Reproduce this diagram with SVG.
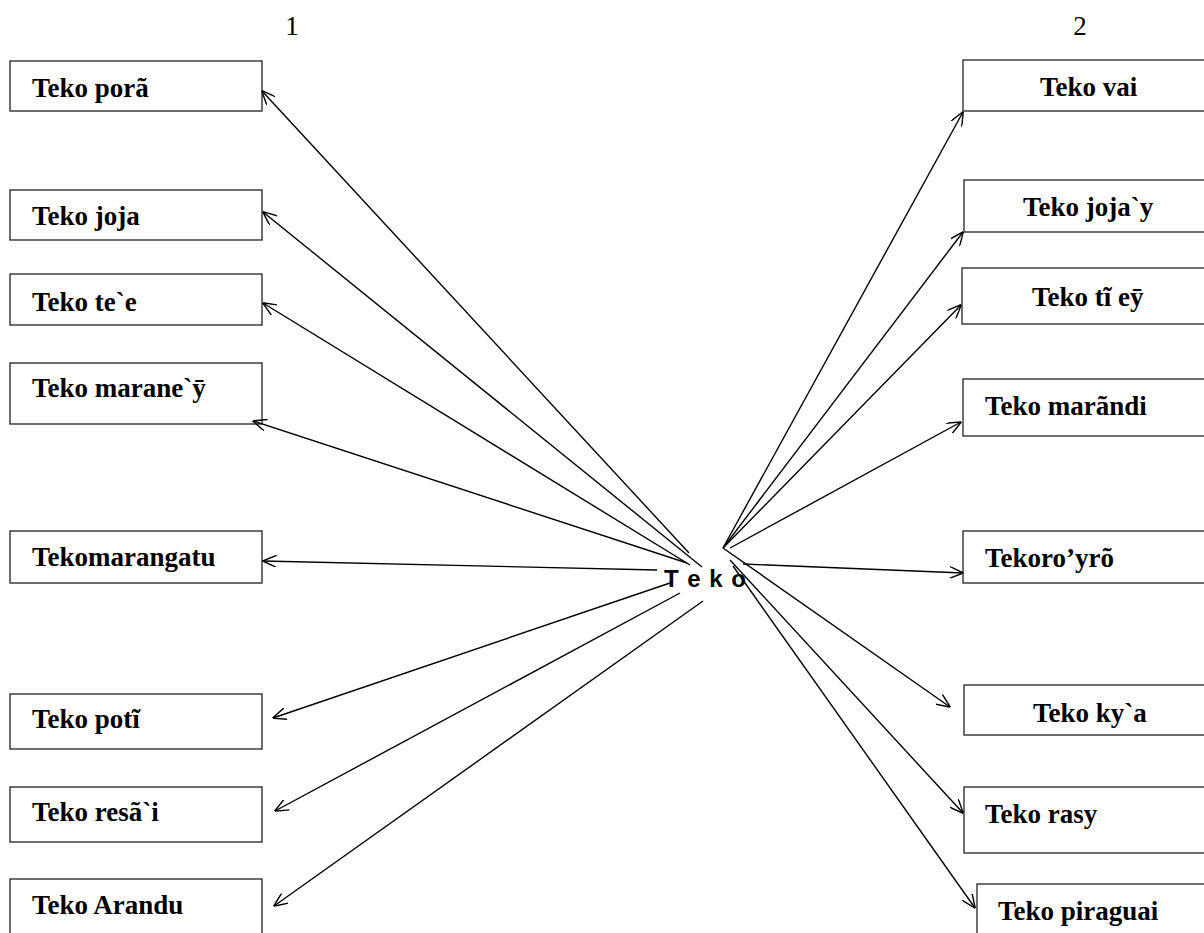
<svg xmlns="http://www.w3.org/2000/svg" width="1204" height="933" viewBox="0 0 1204 933">
<defs>
<style>
.box{fill:#fff;stroke:#222;stroke-width:1.3}
.lbl{font-family:"Liberation Serif","Times New Roman",serif;font-weight:bold;font-size:27px;fill:#000}
.num{font-family:"Liberation Serif","Times New Roman",serif;font-size:27px;fill:#000}
.hub{font-family:"Liberation Sans",Arial,sans-serif;font-weight:bold;font-size:24px;fill:#000;letter-spacing:1px}
.conn line{stroke:#000;stroke-width:1.4;fill:none;marker-end:url(#arr)}
</style>
<marker id="arr" viewBox="0 0 14 12" refX="13.5" refY="6" markerWidth="14" markerHeight="12" markerUnits="userSpaceOnUse" orient="auto">
<path d="M0,0 L14,6 L0,12" fill="none" stroke="#000" stroke-width="1.4"/>
</marker>
</defs>
<rect width="1204" height="933" fill="#fff"/>
<text class="num" x="292" y="35" text-anchor="middle">1</text>
<text class="num" x="1080" y="35" text-anchor="middle">2</text>

<g id="n-pora"><rect class="box" x="10" y="61" width="252" height="50"/><text class="lbl" x="32" y="97">Teko porã</text></g>
<g id="n-joja"><rect class="box" x="10" y="190" width="252" height="50"/><text class="lbl" x="32" y="225">Teko joja</text></g>
<g id="n-tee"><rect class="box" x="10" y="274" width="252" height="51"/><text class="lbl" x="32" y="311">Teko te`e</text></g>
<g id="n-maraney"><rect class="box" x="10" y="363" width="252" height="61"/><text class="lbl" x="32" y="397">Teko marane`ȳ</text></g>
<g id="n-marangatu"><rect class="box" x="10" y="531" width="252" height="52"/><text class="lbl" x="32" y="566">Tekomarangatu</text></g>
<g id="n-poti"><rect class="box" x="10" y="694" width="252" height="55"/><text class="lbl" x="32" y="728">Teko potĩ</text></g>
<g id="n-resai"><rect class="box" x="10" y="787" width="252" height="55"/><text class="lbl" x="32" y="821">Teko resã`i</text></g>
<g id="n-arandu"><rect class="box" x="10" y="879" width="252" height="60"/><text class="lbl" x="32" y="914">Teko Arandu</text></g>

<g id="n-vai"><rect class="box" x="963" y="60" width="250" height="51"/><text class="lbl" x="1040" y="96">Teko vai</text></g>
<g id="n-jojay"><rect class="box" x="964" y="180" width="250" height="52"/><text class="lbl" x="1023" y="216">Teko joja`y</text></g>
<g id="n-tiey"><rect class="box" x="962" y="268" width="250" height="56"/><text class="lbl" x="1032" y="306">Teko tĩ eȳ</text></g>
<g id="n-marandi"><rect class="box" x="963" y="379" width="250" height="57"/><text class="lbl" x="985" y="415">Teko marãndi</text></g>
<g id="n-koroyro"><rect class="box" x="963" y="531" width="250" height="52"/><text class="lbl" x="985" y="567">Tekoro’yrõ</text></g>
<g id="n-kya"><rect class="box" x="964" y="685" width="250" height="50"/><text class="lbl" x="1033" y="722">Teko ky`a</text></g>
<g id="n-rasy"><rect class="box" x="964" y="787" width="250" height="66"/><text class="lbl" x="985" y="823">Teko rasy</text></g>
<g id="n-piraguai"><rect class="box" x="977" y="884" width="250" height="60"/><text class="lbl" x="998" y="920">Teko piraguai</text></g>

<g id="hub"><text class="hub" x="664" y="587">T e k o</text></g>

<g id="connectors" class="conn">
<line x1="689" y1="553" x2="262" y2="91"/>
<line x1="702" y1="567" x2="263" y2="212"/>
<line x1="690" y1="565" x2="263" y2="303"/>
<line x1="687" y1="563" x2="253" y2="421"/>
<line x1="657" y1="570" x2="263" y2="561"/>
<line x1="670" y1="583" x2="273" y2="718"/>
<line x1="680" y1="593" x2="275" y2="811"/>
<line x1="703" y1="601" x2="274" y2="906"/>
<line x1="723" y1="548" x2="963" y2="112"/>
<line x1="723" y1="548" x2="963" y2="232"/>
<line x1="723" y1="548" x2="961" y2="305"/>
<line x1="730" y1="548" x2="961" y2="422"/>
<line x1="743" y1="564" x2="963" y2="573"/>
<line x1="723" y1="548" x2="950" y2="707"/>
<line x1="730" y1="560" x2="963" y2="813"/>
<line x1="733" y1="566" x2="975" y2="908"/>
</g>
</svg>
